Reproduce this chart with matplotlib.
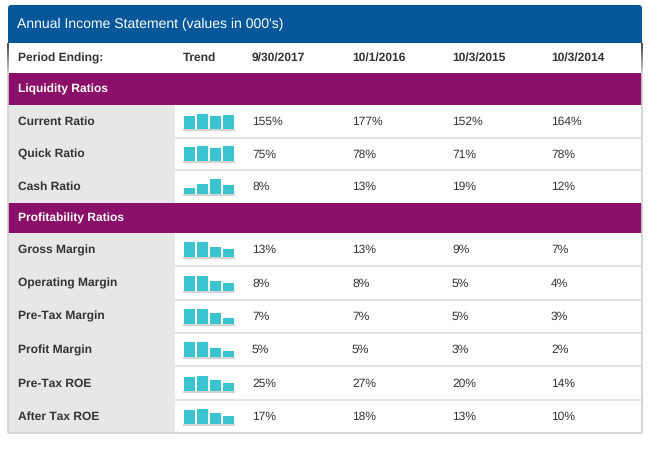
import matplotlib
matplotlib.use("Agg")
import matplotlib.pyplot as plt
from matplotlib.patches import Rectangle, FancyBboxPatch
import numpy as np

plt.rcParams['font.family'] = ['Liberation Sans', 'DejaVu Sans']
plt.rcParams['text.hinting'] = 'no_hinting'
plt.rcParams['text.hinting_factor'] = 1

# ---- data ----
title = "Annual Income Statement (values in 000's)"
header_label = "Period Ending:"
trend_label = "Trend"
periods = ["9/30/2017", "10/1/2016", "10/3/2015", "10/3/2014"]

liquidity_section = "Liquidity Ratios"
liquidity_rows = ["Current Ratio", "Quick Ratio", "Cash Ratio"]
current_ratio = [155, 177, 152, 164]
quick_ratio = [75, 78, 71, 78]
cash_ratio = [8, 13, 19, 12]

profit_section = "Profitability Ratios"
profit_rows = ["Gross Margin", "Operating Margin", "Pre-Tax Margin",
               "Profit Margin", "Pre-Tax ROE", "After Tax ROE"]
gross_margin = [13, 13, 9, 7]
operating_margin = [8, 8, 5, 4]
pretax_margin = [7, 7, 5, 3]
profit_margin = [5, 5, 3, 2]
pretax_roe = [25, 27, 20, 14]
aftertax_roe = [17, 18, 13, 10]

liquidity_values = [current_ratio, quick_ratio, cash_ratio]
profit_values = [gross_margin, operating_margin, pretax_margin,
                 profit_margin, pretax_roe, aftertax_roe]

# ---- styles / layout ----
W, H = 668, 449
BLUE = "#02579a"
PURPLE = "#8a0f68"
TEAL = "#3ac4d0"
GRAYCOL = "#e7e7e7"
SEP = "#e2e2e2"
TXT = "#333333"
X0, X1 = 8, 642
LABEL_X = 18
LABEL_COL_R = 175
TREND_X0, TREND_X1 = 183, 235
COL_X = [252, 352, 452, 551]
FS = 8.5

fig = plt.figure(figsize=(W / 100, H / 100), dpi=100)
ax = fig.add_axes([0, 0, 1, 1])
ax.set_xlim(0, W)
ax.set_ylim(H, 0)
ax.axis("off")

# blue title header with rounded top
ax.add_patch(FancyBboxPatch((X0, 5), X1 - X0, 44, boxstyle="round,pad=0,rounding_size=3",
                            facecolor=BLUE, edgecolor="none"))
ax.add_patch(Rectangle((X0, 30), X1 - X0, 13, facecolor=BLUE, edgecolor="none"))
ax.add_patch(Rectangle((X0, 43), X1 - X0, 433 - 43, facecolor="white", edgecolor="none"))
ax.text(17, 24.5, title, color="white", fontsize=10.0, va="center", ha="left")

# header row
hy = 58
ax.text(LABEL_X, hy, header_label, fontsize=FS, fontweight="bold", color=TXT, va="center")
ax.text(TREND_X0, hy, trend_label, fontsize=FS, fontweight="bold", color=TXT, va="center")
for x, p in zip(COL_X, periods):
    ax.text(x, hy, p, fontsize=FS, fontweight="bold", color=TXT, va="center")


def section(y0, y1, name):
    ax.add_patch(Rectangle((X0, y0), X1 - X0, y1 - y0, facecolor=PURPLE, edgecolor="none"))
    ax.text(LABEL_X, (y0 + y1) / 2, name, fontsize=FS, fontweight="bold", color="white", va="center")


def rows(y0, y1, names, values):
    n = len(names)
    h = (y1 - y0) / n
    ax.add_patch(Rectangle((X0, y0), LABEL_COL_R - X0, y1 - y0, facecolor=GRAYCOL, edgecolor="none"))
    for i, (name, vals) in enumerate(zip(names, values)):
        ry0 = y0 + i * h
        ry1 = ry0 + h
        cy = (ry0 + ry1) / 2 + 0.5
        if i < n - 1:
            ax.plot([LABEL_COL_R, X1], [ry1, ry1], color=SEP, lw=1.4, solid_capstyle="butt")
        ax.text(LABEL_X, cy, name, fontsize=FS, fontweight="bold", color=TXT, va="center")
        for x, v in zip(COL_X, vals):
            ax.text(x, cy, f"{v}%", fontsize=FS, color=TXT, va="center")
        # trend sparkline bars
        base = ry1 - 9
        ax.plot([TREND_X0, TREND_X1], [base + 1, base + 1], color="#d4d4d4", lw=1.5,
                solid_capstyle="butt")
        bax = fig.add_axes([TREND_X0 / W, 1 - base / H, (TREND_X1 - TREND_X0) / W, 15 / H])
        bax.bar(np.arange(len(vals)), vals, width=0.87, color=TEAL)
        bax.set_xlim(-0.5, len(vals) - 0.5)
        bax.set_ylim(0, max(vals))
        bax.axis("off")


section(73, 105, liquidity_section)
rows(105, 203, liquidity_rows, liquidity_values)
section(203, 233, profit_section)
rows(233, 433, profit_rows, profit_values)

# outer border (dark near the top, fading to light gray)
ax.plot([X0, X1], [433, 433], color="#d0d0d0", lw=1.2, solid_capstyle="butt")
for xb in (X0, X1):
    ax.plot([xb, xb], [43, 433], color="#d0d0d0", lw=1.2, solid_capstyle="butt")
    ys = np.linspace(43, 75, 12)
    for k in range(len(ys) - 1):
        t = k / (len(ys) - 2)
        c = (0.2 + 0.62 * t,) * 3
        ax.plot([xb, xb], [ys[k], ys[k + 1]], color=c, lw=1.2, solid_capstyle="butt")

fig.savefig("out.png", dpi=100)
